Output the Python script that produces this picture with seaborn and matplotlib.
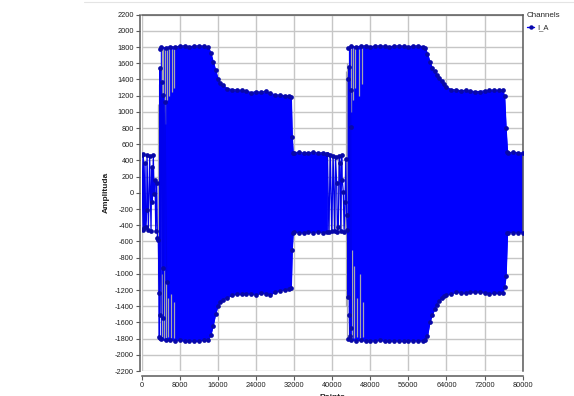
import numpy as np
import pandas as pd
import matplotlib
matplotlib.use("Agg")
import matplotlib.pyplot as plt
from matplotlib.lines import Line2D
import seaborn as sns

# ---- dense part of the I_A record: upper / lower envelope of the oscillation ----
b1_x = [3900, 4000, 5000, 6000, 7000, 8000, 9000, 10000, 11000, 12000, 13000, 14000,
        14500, 15000, 15500, 16000, 16500, 17000,
        18000, 19000, 20000, 21000, 22000, 23000, 24000, 25000, 26000, 27000, 28000, 29000, 30000, 31000,
        31400, 31600, 31800,
        32000, 33000, 34000, 35000, 36000, 37000, 38000, 39000]
b1_hi = [1780, 1800, 1790, 1805, 1800, 1810, 1815, 1805, 1810, 1815, 1810, 1800,
         1730, 1620, 1520, 1410, 1360, 1330,
         1285, 1275, 1270, 1265, 1260, 1235, 1250, 1240, 1255, 1230, 1210, 1205, 1200, 1195,
         1180, 690, 490,
         495, 500, 490, 495, 500, 490, 495, 485]
b1_lo = [-1790, -1810, -1820, -1815, -1825, -1820, -1830, -1825, -1835, -1830, -1820, -1815,
         -1760, -1640, -1500, -1400, -1350, -1320,
         -1295, -1265, -1250, -1255, -1245, -1250, -1260, -1240, -1245, -1260, -1230, -1210, -1195, -1185,
         -1180, -700, -490,
         -485, -490, -495, -485, -490, -480, -490, -485]

b2_x = [43400,
        44000, 45000, 46000, 47000, 48000, 49000, 50000, 51000, 52000, 53000, 54000, 55000, 56000, 57000, 58000, 59000,
        59500, 60000, 60500, 61000, 61500, 62000, 62500, 63000, 63500, 64000,
        65000, 66000, 67000, 68000, 69000, 70000, 71000, 72000, 73000, 74000, 75000,
        75800, 76200, 76500, 76800,
        77000, 78000, 79000, 80000]
b2_hi = [1790,
         1810, 1800, 1810, 1815, 1805, 1810, 1815, 1810, 1805, 1810, 1815, 1810, 1805, 1810, 1815, 1805,
         1790, 1720, 1620, 1545, 1500, 1460, 1420, 1385, 1345, 1305,
         1275, 1270, 1260, 1265, 1255, 1250, 1250, 1260, 1265, 1270, 1265,
         1270, 1190, 800, 500,
         495, 500, 495, 490]
b2_lo = [-1800,
         -1815, -1825, -1820, -1830, -1825, -1830, -1820, -1830, -1835, -1825, -1830, -1835, -1830, -1825, -1830, -1825,
         -1820, -1770, -1600, -1510, -1440, -1380, -1330, -1300, -1275, -1260,
         -1250, -1225, -1235, -1240, -1230, -1225, -1225, -1235, -1245, -1240, -1240,
         -1240, -1160, -1030, -495,
         -490, -490, -495, -490]

# ---- sparsely sampled stretches of the trace ----
sp1_x = [0, 280, 340, 560, 690, 840, 1050, 1120, 1400, 1680,
         1960, 2100, 2240, 2440, 2600, 2790, 2950, 3150, 3300, 3490,
         3650, 3700, 3840, 3840, 4200, 4400, 4540, 4540, 4890, 5250]
sp1_y = [470, -460, 480, -440, 365, -418, -212, 470, -459, 450,
         -470, 323, -109, 465, -15, 159, -470, 118, -560, -582,
         -1233, -1784, 1538, -1508, 1373, -932, 1208, -1549, 1126, -1097]

sp2_x = [39000, 39300, 39600, 39900, 40200, 40500, 40700, 40940, 41100, 41280,
         41500, 41650, 41800, 41990, 42100, 42330, 42500, 42700, 42850, 43040,
         43200, 43350, 43380, 43500, 43600, 43700, 43850, 43900, 44050]
sp2_y = [485, -480, 470, -475, 450, -470, 440, 118, -480, -418,
         450, 365, -470, 467, 160, 15, -480, -110, 420, -273,
         -459, -1282, 1402, 1558, -1508, -1768, 1270, 817, -1672]

# ---- thin connector strokes inside the switching transients ----
gray_x = [3450, 3650, 3800, 4200, 4500, 4900, 5300, 5700, 6300, 6700,
          4300, 4700, 5100, 5600, 6200, 6800,
          39400, 40000, 40600, 41300, 41900, 42600,
          42900, 43100,
          43900, 44300, 44800, 45600, 46200,
          44100, 44600, 45200, 45900, 46500]
gray_lo = [-1250, -1780, -1500, 900, 1000, 850, 1150, 1200, 1250, 1300,
           -1780, -1790, -1790, -1780, -1790, -1790,
           -470, -480, -460, -470, -480, -470,
           -1400, -1790,
           1000, 1150, 1300, 1200, 1350,
           -1790, -1790, -1780, -1790, -1780]
gray_hi = [1100, 1350, 1500, 1790, 1780, 1790, 1780, 1790, 1780, 1780,
           -1000, -950, -1100, -1300, -1250, -1350,
           460, 440, 450, 430, 440, 420,
           1500, 1600,
           1790, 1790, 1790, 1780, 1790,
           -700, -900, -1300, -1000, -1350]

x_ticks = list(range(0, 80001, 8000))
y_ticks = list(range(-2200, 2201, 200))

FILL = "#0000ff"
MARK = "#0808a8"
LINE = "#0000ee"
GREY = "#a6a6ae"
AXC = "#5a5a5a"

sns.set_theme(style="white")
plt.rcParams["font.family"] = ["Liberation Sans", "DejaVu Sans"]

fig = plt.figure(figsize=(5.74, 3.96), dpi=100)
ax = fig.add_axes([141.7 / 574, 1 - 371 / 396, 381 / 574, 356.3 / 396])

# dense oscillation band
ax.fill_between(b1_x, b1_lo, b1_hi, color=FILL, lw=0, zorder=2)
ax.fill_between(b2_x, b2_lo, b2_hi, color=FILL, lw=0, zorder=2)

# connector strokes
ax.vlines(gray_x, gray_lo, gray_hi, colors=GREY, lw=0.9, zorder=3)

# sparse stretches of the trace with sample markers
traces = pd.concat([
    pd.DataFrame({"x": sp1_x, "y": sp1_y, "part": "s1"}),
    pd.DataFrame({"x": sp2_x, "y": sp2_y, "part": "s2"}),
], ignore_index=True)
sns.lineplot(data=traces, x="x", y="y", units="part", estimator=None, sort=False,
             color=LINE, lw=0.9, marker="o", markersize=3.4, markeredgewidth=0,
             markerfacecolor=MARK, legend=False, ax=ax, zorder=4)

# sample markers along the band edges
edges = pd.concat([
    pd.DataFrame({"x": b1_x, "y": b1_hi, "part": "b1h"}),
    pd.DataFrame({"x": b1_x, "y": b1_lo, "part": "b1l"}),
    pd.DataFrame({"x": b2_x, "y": b2_hi, "part": "b2h"}),
    pd.DataFrame({"x": b2_x, "y": b2_lo, "part": "b2l"}),
], ignore_index=True)
sns.lineplot(data=edges, x="x", y="y", units="part", estimator=None, sort=False,
             color=FILL, lw=1.0, marker="o", markersize=3.4, markeredgewidth=0,
             markerfacecolor=MARK, legend=False, ax=ax, zorder=5)

ax.set_xlim(0, 80000)
ax.set_ylim(-2200, 2200)
ax.set_xticks(x_ticks)
ax.set_yticks(y_ticks)
ax.set_xticklabels([str(v) for v in x_ticks])
ax.set_yticklabels([str(v) for v in y_ticks])
ax.grid(True, color="#c6c6c6", lw=1.0, zorder=0)
ax.set_axisbelow(True)

for side in ["top", "right", "left", "bottom"]:
    ax.spines[side].set_color(AXC)
    ax.spines[side].set_linewidth(1.1)
ax.spines["left"].set_position(("outward", 1.5))
ax.spines["bottom"].set_position(("outward", 3.6))
ax.tick_params(axis="both", which="major", length=3, width=0.8, color=AXC,
               labelsize=5.3, labelcolor="#202020", pad=1.2, left=True, bottom=True)

ax.set_xlabel("Points", fontsize=6, fontweight="bold", color="#202020")
ax.set_ylabel("Amplituda", fontsize=6, fontweight="bold", color="#202020")
ax.xaxis.set_label_coords(0.5, -0.074)
ax.yaxis.set_label_coords(-0.092, 0.5)
ax.xaxis.label.set_va("center")
ax.yaxis.label.set_va("center")

handle = Line2D([], [], color=LINE, lw=1.0, marker="o", markersize=3.2,
                markerfacecolor=MARK, markeredgewidth=0)
leg = fig.legend([handle], ["I_A"], title="Channels", loc="upper left",
                 bbox_to_anchor=(523 / 574, 1 - 8 / 396), frameon=False,
                 fontsize=5.5, title_fontsize=5.8, handlelength=1.0,
                 handletextpad=0.3, borderpad=0.0, labelspacing=0.7)
leg._legend_box.align = "left"

fig.add_artist(Line2D([84 / 574, 1.0], [1 - 2 / 396, 1 - 2 / 396], color="#e4e4e4", lw=0.8))

fig.savefig("out.png", dpi=100, facecolor="white")
